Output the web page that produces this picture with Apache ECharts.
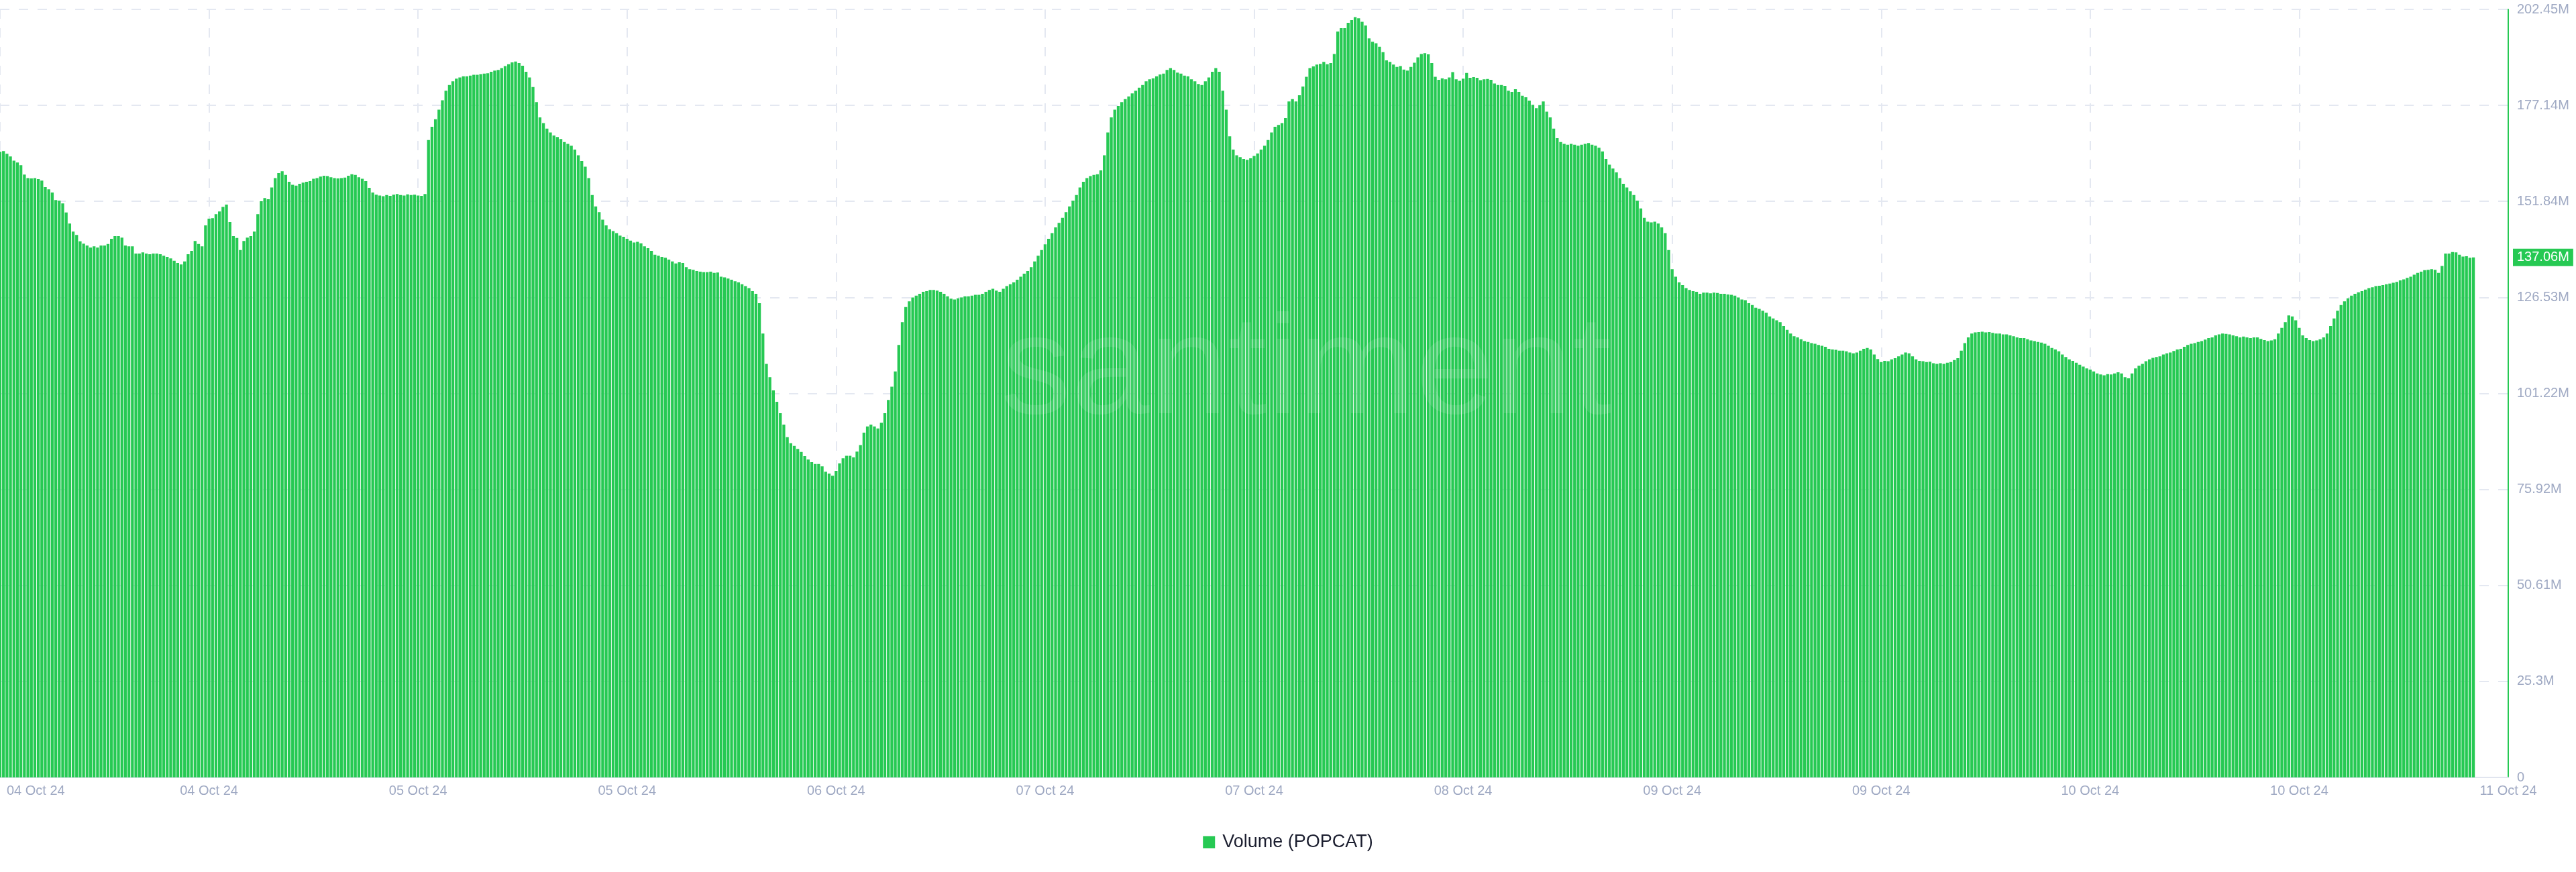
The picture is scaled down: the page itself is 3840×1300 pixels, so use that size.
<!DOCTYPE html>
<html>
<head>
<meta charset="utf-8">
<script src="https://cdn.jsdelivr.net/npm/echarts@6/dist/echarts.min.js"></script>
<style>
html,body{margin:0;padding:0;background:#ffffff;}
#chart{width:3840px;height:1300px;}
</style>
</head>
<body>
<div id="chart"></div>
<script>
// Volume (POPCAT), millions, one value per bar
const volumeSeg1 = [
164.9,165.1,164.4,163.7,162.6,162.1,161.4,158.9,158.0,157.9,
158.0,157.7,157.3,155.6,155.0,154.2,152.2,152.0,151.3,148.9,
146.0,143.9,143.0,141.3,140.7,140.2,139.7,140.0,139.7,140.2,
140.2,140.6,142.0,142.7,142.7,142.3,140.2,140.0,140.0,138.1,
138.1,138.4,138.1,137.9,138.1,138.1,137.9,137.5,137.2,136.8,
136.2,135.6,135.2,136.0,137.9,138.8,141.4,140.6,140.0,145.5,
147.3,147.4,148.5,149.2,150.4,151.0,146.4,142.7,142.2,139.0,
141.4,142.3,142.7,143.9,148.5,151.9,152.7,152.4
];
const volumeSeg2 = [
155.5,158.0,159.3,159.8,158.8,157.0,156.2,156.0,156.5,156.8,
157.0,157.2,157.8,158.0,158.4,158.6,158.5,158.2,158.0,157.9,
158.0,158.1,158.6,159.0,158.8,158.2,157.8,157.2,155.4,154.2,
153.6,153.4,153.2,153.5,153.3,153.6,153.8,153.5,153.4,153.7,
153.5,153.6,153.4,153.3,153.8,168.0,171.5,173.5,176.0,178.5,
181.0,182.5,183.5,184.2,184.5,184.8,184.8,185.0,185.2,185.2,
185.4,185.5,185.6,186.0,186.3,186.5,187.0,187.5,188.0,188.5,
188.7,188.3,187.6,186.0,184.5,182.0,178.0,174.0,172.5,171.0,
170.0,169.2,168.8,168.3,167.5,167.0,166.5,165.5,164.0,162.5,
161.0,158.0,153.5,150.5,149.0,147.0,145.5,144.5,144.0,143.5,
142.8,142.5,142.0,141.5,141.0,141.2,140.8,140.0,139.5,138.8,
137.8,137.5,137.2,137.0,136.5,136.0,135.5,135.8,135.6,134.5,
134.0,133.8,133.5,133.3,133.2,133.2,133.3,133.0,133.1,132.0,
131.8,131.5,131.2,130.8,130.5,130.0,129.5,129.0,128.2,127.5,
125.0,117.0,109.0,105.5
];
const volumeSeg3 = [
102.0,99.0,96.0,93.0,89.7,88.1,87.4,86.6,85.8,84.7,
83.8,83.1,82.6,82.6,82.0,80.6,80.1,79.5,80.8,82.8,
84.1,84.8,84.8,84.4,85.9,87.6,90.9
];
const volumeSeg4 = [
92.5,93.0,92.5,92.0,93.5,96.0,99.5,103.0,107.0,114.0,
120.0,124.0,125.5,126.5,127.0,127.5,128.0,128.2,128.5,128.5,
128.3,128.0,127.5,126.8,126.2,126.0,126.3,126.5,126.8,126.8,
127.0,127.2,127.2,127.5,128.0,128.5,128.8,128.3,128.0,128.8,
129.5,130.0,130.5,131.2,132.0,132.8,133.5,134.5,136.0,137.5,
139.0,140.5,142.0,143.5,145.0,146.2,147.5,149.0,150.5,152.0,
153.5,155.5,157.0,158.0,158.5,158.8,159.0,160.0,164.0,170.0,
174.0,176.0,177.0,178.0,178.8,179.5,180.3,181.0,181.8,182.5,
183.5,184.0,184.3,184.8,185.3,185.5,186.5,187.0,186.5,185.8,
185.5,185.0,184.8,184.0,183.5,182.8,182.5,183.5,184.5,186.0,
187.0,186.0,181.0,176.0,169.0,165.5,164.0,163.5,163.0,162.8,
163.2,163.8,164.5,165.5,166.5,168.0,170.0,171.5,172.0
];
const volumeSeg5 = [
172.5,173.8,178.2,178.8,178.2,179.8,182.1,184.7,187.0,187.4,
187.9,188.1,188.6,188.0,188.3,190.7,196.6,197.5,197.5,198.9,
199.6,200.4,200.1,199.2,198.2,194.8,193.9,193.5,192.6,191.2,
189.0,188.6,187.9,187.3,187.5,186.6,186.3,187.3,188.4,189.8,
190.7,190.9,190.6,188.3,184.7,183.9,184.3,184.0,184.5,185.9,
184.0,183.6,184.2,185.7,184.4,184.6,184.4,183.8,184.0,184.1,
183.9,182.9,182.5,182.5,182.3,181.0,180.7,181.4,180.7,179.7,
179.3,178.4,177.3,176.4,177.2,178.2
];
const volumeSeg6 = [
175.5,174.0,171.0,168.5,167.5,167.0,166.8,167.0,166.8,166.5,
166.8,167.0,167.2,166.8,166.5,166.0,165.0,163.0,161.5,160.5,
159.5,158.0,156.5,155.5,154.5,153.5,152.0,150.0,147.5,146.5,
146.3,146.5,146.0,145.0,143.5,139.0,134.0,132.0,130.5,129.8,
129.0,128.5,128.2,128.0,127.5,127.8,127.8,127.6,127.8,127.7,
127.5,127.5,127.3,127.2,127.0,126.5,126.0,125.8,125.0,124.5,
123.8,123.5,123.0,122.5,121.5,121.0,120.5,120.0,119.0,118.0,
117.0,116.3,116.0,115.5,115.0,114.8,114.5,114.3,114.0,113.8,
113.5,113.0,112.8,112.7,112.5,112.5,112.3,112.0,111.8,112.0,
112.5,113.0,113.2,112.8,111.5,110.3,109.5,109.8,109.7,110.2,
110.5,111.0,111.5,112.0,111.8,111.0,110.2,109.8,109.7,109.5,
109.6,109.2,109.0,109.2,109.0,109.3,109.5,110.0,110.5,112.5,
114.5,116.0,117.0,117.3,117.4,117.5,117.3,117.4,117.2,117.0,
117.0,116.8,116.8,116.5,116.3,116.0,115.8,115.8,115.5,115.2,
115.0,114.8,114.6,114.3,113.8,113.2,112.8,112.3,111.5,110.8,
110.2,109.8,109.3,108.8,108.3,107.8,107.5,107.0,106.5,106.2,
106.0,106.3,106.2,106.5,106.8,106.5,105.5,105.2,106.5,107.8,
108.5,109.0,109.7,110.2,110.6,110.8,111.0,111.5,111.8,112.0,
112.4,112.8,113.0,113.5,114.0,114.3,114.5,114.8,115.0,115.4,
115.8,116.0,116.5,116.8,117.0,116.9,116.8,116.5,116.3,116.0,
116.2,116.0,115.8,116.0,116.0,115.6,115.3,115.0,115.2,115.5,
117.0,118.5,120.0,121.8,121.5,120.5,118.5,116.5,115.8,115.3,
115.0,115.2,115.5,116.0,117.0,119.0,121.0,123.0,124.5,125.5,
126.3,127.0,127.5,127.9,128.2,128.6,129.0,129.2,129.5,129.6,
129.8,130.0,130.2,130.4,130.6,131.0,131.3,131.7,132.0,132.5
];
const volumeSeg7 = [
133.0,133.3,133.7,133.8,134.0,133.8,133.0,134.8,138.1,138.1,
138.5,138.4,137.8,137.3,137.4,137.0,137.06
];

const seriesName = 'Volume (POPCAT)';
const xTickLabels = ['04 Oct 24','04 Oct 24','05 Oct 24','05 Oct 24','06 Oct 24','07 Oct 24','07 Oct 24','08 Oct 24','09 Oct 24','09 Oct 24','10 Oct 24','10 Oct 24','11 Oct 24'];
const yTickLabels = ['0','25.3M','50.61M','75.92M','101.22M','126.53M','151.84M','177.14M','202.45M'];
const watermarkText = 'santiment';

const volume = [].concat(volumeSeg1, volumeSeg2, volumeSeg3, volumeSeg4, volumeSeg5, volumeSeg6, volumeSeg7);

const X_STEP = 60;               // bar slots between x ticks
const X_MAX = X_STEP * (xTickLabels.length - 1);
const Y_MAX = 202.45;
const Y_STEP = Y_MAX / (yTickLabels.length - 1);

const GREEN = '#26C953';
const LABEL = '#9FA9C3';
const GRIDC = '#E4E8F1';
const FONT = "'Liberation Sans', Arial, Helvetica, sans-serif";

const lastValue = volume[volume.length - 1];

const chart = echarts.init(document.getElementById('chart'), null, {renderer: 'canvas'});

const option = {
  animation: false,
  backgroundColor: '#ffffff',
  grid: {left: 0, right: 101, top: 14, bottom: 141, containLabel: false},
  xAxis: {
    type: 'value',
    min: 0,
    max: X_MAX,
    interval: X_STEP,
    axisLine: {show: true, onZero: false, lineStyle: {color: '#E1E5EF', width: 2}},
    axisTick: {show: false},
    splitLine: {show: true, lineStyle: {color: GRIDC, width: 2, type: [14, 14]}},
    axisLabel: {
      color: LABEL, fontSize: 20, fontFamily: FONT, margin: 10,
      alignMinLabel: 'left',
      formatter: function (v) {
        const i = Math.round(v / X_STEP);
        const t = xTickLabels[i] || '';
        return i === 0 ? '{first|' + t + '}' : t;
      },
      rich: {first: {padding: [0, 0, 0, 10], color: LABEL, fontSize: 20, fontFamily: FONT}}
    }
  },
  yAxis: {
    type: 'value',
    position: 'right',
    min: 0,
    max: Y_MAX,
    interval: Y_STEP,
    axisLine: {show: true, onZero: false, lineStyle: {color: GREEN, width: 2}},
    axisTick: {show: false},
    splitLine: {show: true, lineStyle: {color: GRIDC, width: 2, type: [14, 14]}},
    axisLabel: {
      color: LABEL, fontSize: 20, fontFamily: FONT, margin: 13,
      formatter: function (v) { return yTickLabels[Math.round(v / Y_STEP)] || ''; }
    }
  },
  legend: {
    show: true,
    left: 'center',
    top: 1237,
    icon: 'rect',
    itemWidth: 18,
    itemHeight: 18,
    textStyle: {color: '#1B1E2F', fontSize: 27, fontFamily: FONT, padding: [0, 0, 0, 6]},
    data: [seriesName]
  },
  graphic: [{
    type: 'text',
    x: 1947,
    y: 558,
    z: 100,
    silent: true,
    style: {
      text: watermarkText,
      fill: 'rgba(240,243,250,0.12)',
      font: "normal 210px 'Liberation Sans', Arial, sans-serif",
      textAlign: 'center',
      textVerticalAlign: 'middle'
    }
  }],
  series: [{
    type: 'bar',
    name: seriesName,
    data: volume.map(function (v, i) { return [i, v]; }),
    barWidth: 4.3,
    itemStyle: {color: GREEN},
    markLine: {
      silent: true,
      animation: false,
      symbol: ['none', 'none'],
      lineStyle: {color: 'rgba(0,0,0,0)', width: 1},
      label: {
        show: true,
        position: 'end',
        distance: 7,
        formatter: function () { return lastValue.toFixed(2) + 'M'; },
        color: '#ffffff',
        backgroundColor: GREEN,
        fontSize: 20,
        fontFamily: FONT,
        lineHeight: 21,
        padding: [3, 6, 2, 6]
      },
      data: [{yAxis: lastValue}]
    }
  }]
};

chart.setOption(option);
</script>
</body>
</html>
